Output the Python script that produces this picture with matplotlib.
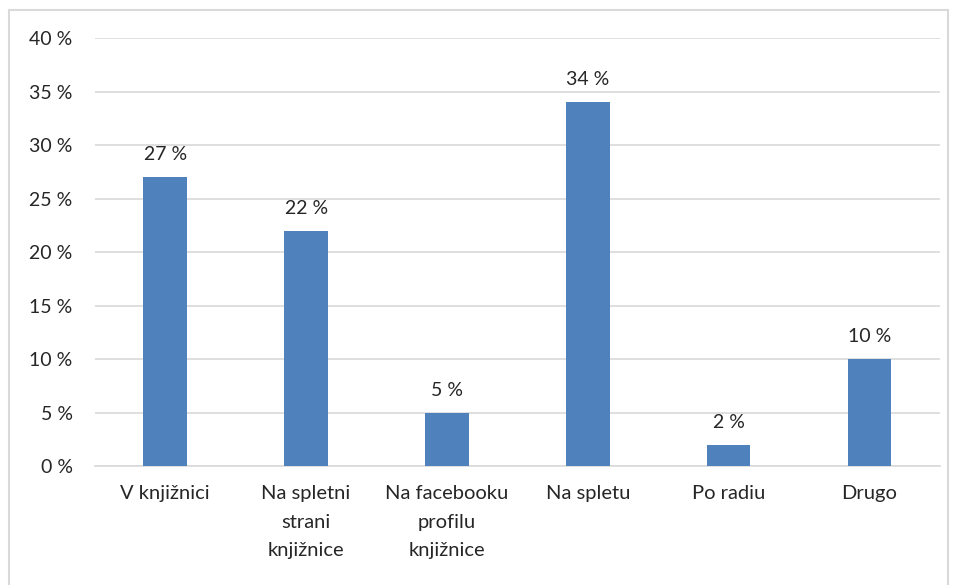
import matplotlib.pyplot as plt
from matplotlib.patches import Rectangle

categories = ['V knjižnici', 'Na spletni\nstrani\nknjižnice', 'Na facebooku\nprofilu\nknjižnice',
              'Na spletu', 'Po radiu', 'Drugo']
values = [27, 22, 5, 34, 2, 10]
yticks = [0, 5, 10, 15, 20, 25, 30, 35, 40]

plt.rcParams['font.family'] = ['Lato', 'DejaVu Sans']
textColor = '#262626'

fig = plt.figure(figsize=(9.58, 5.85), dpi=100)
ax = fig.add_axes([0.099, 0.2034, 0.882, 0.7316])

xs = range(len(values))
bars = ax.bar(xs, values, width=0.31, color='#4F81BD', zorder=3)
for x, v in zip(xs, values):
    ax.annotate(f'{v} %', (x, v), xytext=(0, 10), textcoords='offset points',
                ha='center', va='bottom', fontsize=14, color=textColor)

ax.set_xlim(-0.5, len(values) - 0.5)
ax.set_ylim(0, 40)
ax.set_yticks(yticks)
ax.set_yticklabels([f'{t} %' for t in yticks], fontsize=14, color=textColor)
ax.set_xticks(list(xs))
ax.set_xticklabels(categories, fontsize=14.5, color=textColor, linespacing=1.8)
ax.tick_params(axis='y', length=0, pad=16)
ax.tick_params(axis='x', length=0, pad=14)
ax.grid(axis='y', color='#D9D9D9', linewidth=1.2, zorder=0)
for side in ['top', 'right', 'left']:
    ax.spines[side].set_visible(False)
ax.spines['bottom'].set_color('#D9D9D9')
ax.spines['bottom'].set_linewidth(1.2)

# outer chart frame
fig.patches.append(Rectangle((9 / 958, -0.02), 939 / 958, 1 - 10 / 585 + 0.02,
                             transform=fig.transFigure, fill=False,
                             edgecolor='#D9D9D9', linewidth=1.5))

fig.savefig('out.png', dpi=100)
